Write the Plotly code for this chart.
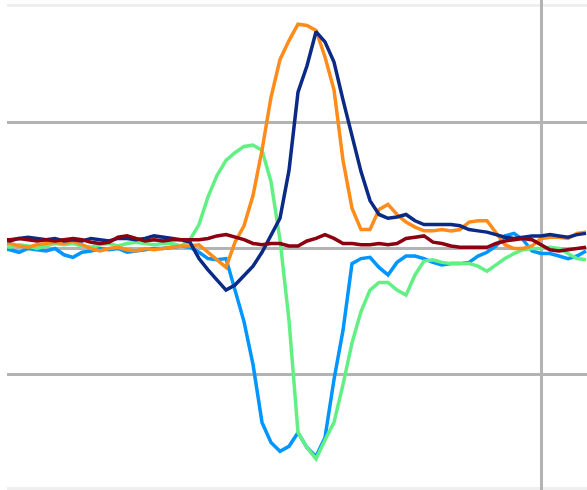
import plotly.graph_objects as go

# sample index (x) and series values (y)
x = list(range(66))

navy = [0.07, 0.06, 0.08, 0.09, 0.08, 0.07, 0.08, 0.06, 0.07, 0.06,
        0.08, 0.07, 0.06, 0.08, 0.08, 0.07, 0.08, 0.10, 0.09, 0.08,
        0.07, 0.05, -0.08, -0.17, -0.25, -0.33, -0.29, -0.21, -0.14, -0.03,
        0.10, 0.24, 0.62, 1.24, 1.45, 1.72, 1.64, 1.48, 1.18, 0.89,
        0.61, 0.38, 0.27, 0.24, 0.25, 0.27, 0.22, 0.19, 0.19, 0.19,
        0.19, 0.18, 0.15, 0.14, 0.13, 0.11, 0.09, 0.08, 0.09, 0.10,
        0.10, 0.11, 0.10, 0.09, 0.11, 0.12]

orange = [0.04, 0.04, 0.02, 0.01, 0.03, 0.04, 0.05, 0.04, 0.06, 0.03,
          0.00, -0.02, 0.00, 0.01, -0.01, -0.02, 0.00, -0.01, 0.00, 0.01,
          0.02, 0.02, 0.03, -0.03, -0.09, -0.15, 0.05, 0.18, 0.42, 0.78,
          1.20, 1.50, 1.65, 1.78, 1.77, 1.73, 1.52, 1.26, 0.70, 0.32,
          0.15, 0.15, 0.31, 0.35, 0.27, 0.21, 0.17, 0.14, 0.14, 0.15,
          0.14, 0.15, 0.21, 0.22, 0.22, 0.13, 0.03, 0.00, 0.00, 0.02,
          0.08, 0.09, 0.09, 0.08, 0.12, 0.13]

green = [0.02, 0.01, 0.03, 0.02, 0.00, 0.02, 0.04, 0.03, 0.04, 0.02,
         0.01, 0.03, 0.04, 0.02, 0.04, 0.05, 0.04, 0.03, 0.04, 0.04,
         0.02, 0.07, 0.19, 0.41, 0.58, 0.70, 0.76, 0.81, 0.82, 0.78,
         0.53, 0.07, -0.57, -1.46, -1.58, -1.67, -1.52, -1.38, -1.08, -0.75,
         -0.50, -0.33, -0.27, -0.27, -0.33, -0.37, -0.21, -0.10, -0.09, -0.11,
         -0.12, -0.12, -0.12, -0.14, -0.18, -0.13, -0.08, -0.04, -0.01, 0.00,
         0.00, 0.01, 0.00, -0.04, -0.08, -0.09]

blue = [0.00, -0.01, -0.03, 0.00, -0.01, -0.02, 0.00, -0.05, -0.07, -0.03,
        -0.02, 0.00, -0.01, 0.00, -0.03, -0.02, -0.01, 0.00, 0.00, 0.01,
        0.02, 0.01, -0.03, -0.08, -0.09, -0.08, -0.33, -0.58, -0.92, -1.38,
        -1.54, -1.61, -1.57, -1.46, -1.58, -1.65, -1.50, -1.04, -0.65, -0.12,
        -0.08, -0.07, -0.15, -0.21, -0.11, -0.06, -0.06, -0.08, -0.11, -0.13,
        -0.12, -0.12, -0.11, -0.06, -0.03, 0.02, 0.10, 0.12, 0.07, -0.02,
        -0.04, -0.04, -0.06, -0.08, -0.06, -0.02]

darkred = [0.07, 0.07, 0.08, 0.07, 0.06, 0.07, 0.06, 0.07, 0.08, 0.07,
           0.05, 0.04, 0.05, 0.09, 0.10, 0.08, 0.06, 0.07, 0.06, 0.07,
           0.07, 0.07, 0.07, 0.08, 0.10, 0.11, 0.09, 0.07, 0.04, 0.03,
           0.04, 0.04, 0.02, 0.02, 0.06, 0.08, 0.11, 0.08, 0.04, 0.04,
           0.03, 0.03, 0.04, 0.03, 0.04, 0.08, 0.09, 0.10, 0.05, 0.04,
           0.02, 0.01, 0.01, 0.01, 0.01, 0.04, 0.06, 0.07, 0.08, 0.07,
           0.03, -0.01, -0.02, -0.01, 0.00, 0.01]

x_grid = [60]
y_grid = [-1, 0, 1]
y_faint = [1.9325, -1.905]

series = [
    (blue, "#0096ff"),
    (green, "#62f084"),
    (orange, "#ff8c1a"),
    (navy, "#0a2a86"),
    (darkred, "#8c0010"),
]

fig = go.Figure()
for ys, col in series:
    fig.add_trace(go.Scatter(x=x, y=ys, mode="lines",
                             line=dict(color=col, width=3.5),
                             showlegend=False, hoverinfo="skip"))

fig.update_layout(
    width=587, height=490,
    margin=dict(l=7, r=0, t=0, b=0),
    paper_bgcolor="white", plot_bgcolor="white",
    showlegend=False,
)
fig.update_xaxes(range=[0.6667, 65.111], tickmode="array", tickvals=x_grid,
                 showgrid=True, gridcolor="#b3b3b3", gridwidth=3,
                 showticklabels=False, zeroline=False, showline=False, ticks="")
fig.update_yaxes(range=[-1.9167, 1.9722], tickmode="array", tickvals=y_grid,
                 showgrid=True, gridcolor="#b3b3b3", gridwidth=3,
                 showticklabels=False, zeroline=False, showline=False, ticks="",
                 minor=dict(tickmode="array", tickvals=y_faint, showgrid=True,
                            gridcolor="#efefef", gridwidth=3, ticks=""))

fig.write_html("out.html")
